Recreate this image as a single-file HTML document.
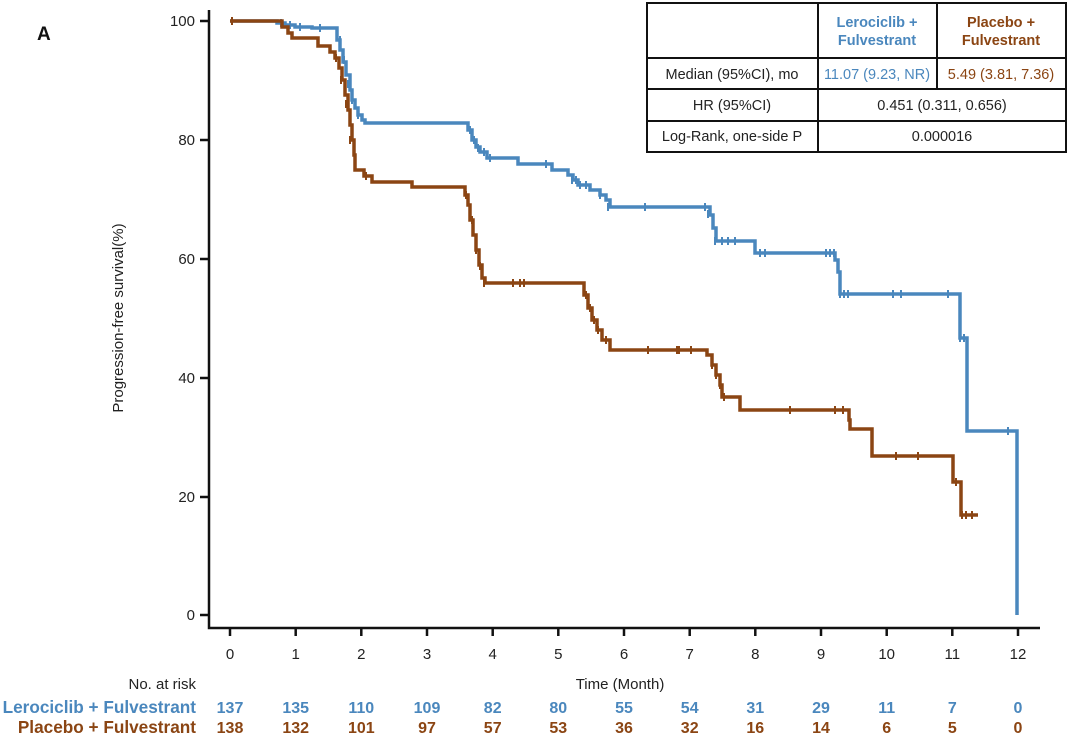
<!DOCTYPE html>
<html><head><meta charset="utf-8"><style>
body{margin:0;background:#fff;}
svg{display:block;font-family:"Liberation Sans",Arial,sans-serif;}
</style></head><body>
<svg width="1080" height="753" viewBox="0 0 1080 753" xmlns="http://www.w3.org/2000/svg">
<text x="37" y="40" font-size="19" font-weight="bold" fill="#111">A</text>
<g stroke="#111" stroke-width="2.5" fill="none">
<path d="M209,10 V628 H1040"/>
<path d="M200,21H209M200,140H209M200,259H209M200,378H209M200,497H209M200,615H209"/>
<path d="M230,628v8M295.7,628v8M361.3,628v8M427,628v8M492.7,628v8M558.3,628v8M624,628v8M689.7,628v8M755.3,628v8M821,628v8M886.7,628v8M952.3,628v8M1018,628v8"/>
</g>
<g font-size="15" fill="#222" text-anchor="end">
<text x="195" y="26">100</text><text x="195" y="145">80</text><text x="195" y="264">60</text>
<text x="195" y="383">40</text><text x="195" y="502">20</text><text x="195" y="620">0</text>
</g>
<g font-size="15" fill="#222" text-anchor="middle">
<text x="230" y="659">0</text><text x="295.7" y="659">1</text><text x="361.3" y="659">2</text><text x="427" y="659">3</text>
<text x="492.7" y="659">4</text><text x="558.3" y="659">5</text><text x="624" y="659">6</text><text x="689.7" y="659">7</text>
<text x="755.3" y="659">8</text><text x="821" y="659">9</text><text x="886.7" y="659">10</text><text x="952.3" y="659">11</text><text x="1018" y="659">12</text>
<text x="620" y="689">Time (Month)</text>
</g>
<text x="123" y="318" font-size="15" fill="#222" text-anchor="middle" transform="rotate(-90 123 318)">Progression-free survival(%)</text>
<text x="196" y="689" font-size="15" fill="#222" text-anchor="end">No. at risk</text>
<path id="blue" fill="none" stroke="#4a87bd" stroke-width="3.5" d=""/>
<g stroke="#4a87bd" stroke-width="2">
<path d="M281,19v8M290,21v8M300,23v8M320,24v8M340,36v8M344,56v8M348,80v8M352,96v8M358,111v8M470,126v8M474,136v8M478,144v8M484,148v8M490,154v8M546,160v8M572,176v8M576,176v8M580,181v8M586,181v8M600,191v8M608,203v8M645,203v8M705,203v8M708,210v8M715,237v8M722,237v8M728,237v8M735,237v8M760,249v8M765,249v8M826,249v8M830,249v8M834,249v8M840,290v8M844,290v8M848,290v8M893,290v8M901,290v8M948,290v8M960,334v8M964,334v8M1008,427v8"/>
</g>
<path id="brown" fill="none" stroke="#8b4513" stroke-width="3.5" d=""/>
<g stroke="#8b4513" stroke-width="2">
<path d="M232,17v8M336,54v8M341,76v8M346,100v8M350,136v8M366,172v8M466,191v8M470,210v8M472,216v8M476,246v8M480,262v8M484,279v8M513,279v8M520,279v8M524,279v8M586,291v8M590,304v8M594,316v8M598,326v8M606,336v8M648,346v8M677,346v8M679,346v8M691,346v8M712,361v8M716,371v8M720,381v8M724,393v8M790,406v8M835,406v8M843,406v8M896,452v8M918,452v8M956,478v8M962,511v8M966,511v8M972,511v8"/>
</g>
<g stroke="#111" stroke-width="2" fill="#fff">
<rect x="647" y="3" width="419" height="149"/>
<path d="M647,58H1066M647,89H1066M647,121H1066M818,3V152M937,3V89" fill="none"/>
</g>
<g font-size="14.5" text-anchor="middle">
<text x="877" y="27" fill="#4a87bd" font-weight="bold">Lerociclib +</text>
<text x="877" y="45" fill="#4a87bd" font-weight="bold">Fulvestrant</text>
<text x="1001" y="27" fill="#8b4513" font-weight="bold">Placebo +</text>
<text x="1001" y="45" fill="#8b4513" font-weight="bold">Fulvestrant</text>
<text x="732" y="79" fill="#222">Median (95%CI), mo</text>
<text x="877" y="79" fill="#4a87bd">11.07 (9.23, NR)</text>
<text x="1001" y="79" fill="#8b4513">5.49 (3.81, 7.36)</text>
<text x="732" y="110" fill="#222">HR (95%CI)</text>
<text x="942" y="110" fill="#222">0.451 (0.311, 0.656)</text>
<text x="732" y="141" fill="#222">Log-Rank, one-side P</text>
<text x="942" y="141" fill="#222">0.000016</text>
</g>
<g font-size="16" font-weight="bold" fill="#4a87bd" text-anchor="middle">
<text x="196" y="713" text-anchor="end" font-size="17.2">Lerociclib + Fulvestrant</text>
<text x="230" y="713">137</text><text x="295.7" y="713">135</text><text x="361.3" y="713">110</text><text x="427" y="713">109</text>
<text x="492.7" y="713">82</text><text x="558.3" y="713">80</text><text x="624" y="713">55</text><text x="689.7" y="713">54</text>
<text x="755.3" y="713">31</text><text x="821" y="713">29</text><text x="886.7" y="713">11</text><text x="952.3" y="713">7</text><text x="1018" y="713">0</text>
</g>
<g font-size="16" font-weight="bold" fill="#8b4513" text-anchor="middle">
<text x="196" y="733" text-anchor="end" font-size="17.2">Placebo + Fulvestrant</text>
<text x="230" y="733">138</text><text x="295.7" y="733">132</text><text x="361.3" y="733">101</text><text x="427" y="733">97</text>
<text x="492.7" y="733">57</text><text x="558.3" y="733">53</text><text x="624" y="733">36</text><text x="689.7" y="733">32</text>
<text x="755.3" y="733">16</text><text x="821" y="733">14</text><text x="886.7" y="733">6</text><text x="952.3" y="733">5</text><text x="1018" y="733">0</text>
</g>
</svg>
<script>
function step(s){var p=s.trim().split(/\s+/).map(function(a){return a.split(',').map(Number);});
var d='M'+p[0][0]+','+p[0][1];for(var i=1;i<p.length;i++){d+=' H'+p[i][0]+' V'+p[i][1];}return d;}
document.getElementById('blue').setAttribute('d',step("230,21 277,21 277,23 285,23 285,25 295,25 295,27 312,27 312,28 335,28 337,40 340,50 343,62 346,75 350,90 352,100 355,108 358,115 362,120 365,123 465,123 468,130 472,140 476,147 480,152 487,152 487,158 518,158 518,164 552,164 552,170 566,170 568,175 573,180 578,185 590,190 600,195 606,200 610,207 705,207 710,215 713,228 716,241 755,241 755,253 835,253 835,260 838,272 840,294 960,294 960,338 967,338 967,431 1017,431 1017,615"));
document.getElementById('brown').setAttribute('d',step("230,21 280,21 282,27 288,27 288,33 292,33 292,38 318,38 318,46 326,46 330,52 335,58 339,68 342,80 345,95 348,110 350,125 352,140 354,155 355,170 362,170 364,176 370,176 372,182 412,182 412,187 462,187 465,195 468,205 470,220 473,235 476,250 479,265 482,278 485,283 582,283 584,295 588,308 592,320 597,330 602,340 610,350 703,350 707,355 712,365 716,375 720,385 722,397 740,397 740,410 847,410 849,420 850,429 872,429 872,456 953,456 953,482 961,482 961,515 978,515"));
</script>
</body></html>
